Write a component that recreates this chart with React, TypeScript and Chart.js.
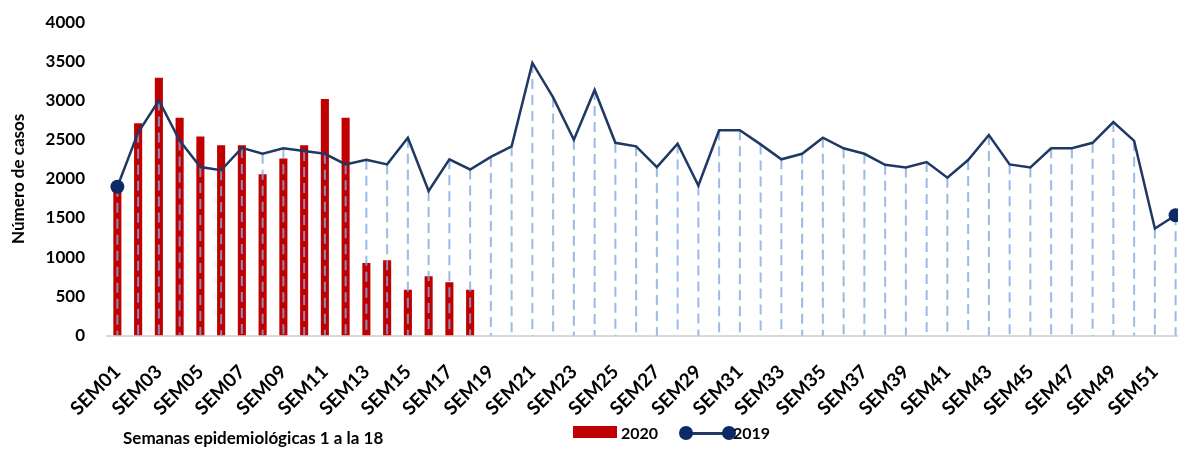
import React, { useEffect, useRef } from 'react';
import { Chart, registerables } from 'chart.js';

Chart.register(...registerables);

const weeks = [
  'SEM01', 'SEM02', 'SEM03', 'SEM04', 'SEM05', 'SEM06', 'SEM07', 'SEM08', 'SEM09', 'SEM10',
  'SEM11', 'SEM12', 'SEM13', 'SEM14', 'SEM15', 'SEM16', 'SEM17', 'SEM18', 'SEM19', 'SEM20',
  'SEM21', 'SEM22', 'SEM23', 'SEM24', 'SEM25', 'SEM26', 'SEM27', 'SEM28', 'SEM29', 'SEM30',
  'SEM31', 'SEM32', 'SEM33', 'SEM34', 'SEM35', 'SEM36', 'SEM37', 'SEM38', 'SEM39', 'SEM40',
  'SEM41', 'SEM42', 'SEM43', 'SEM44', 'SEM45', 'SEM46', 'SEM47', 'SEM48', 'SEM49', 'SEM50',
  'SEM51', 'SEM52',
];

const cases2020 = [
  1880, 2710, 3290, 2780, 2540, 2430, 2430, 2060, 2260, 2430,
  3020, 2780, 925, 960, 585, 755, 680, 585,
];

const cases2019 = [
  1900, 2590, 3000, 2490, 2150, 2110, 2395, 2320, 2390, 2355,
  2320, 2185, 2245, 2185, 2525, 1845, 2250, 2120, 2280, 2415,
  3480, 3040, 2500, 3135, 2460, 2415, 2150, 2450, 1915, 2620,
  2620, 2440, 2250, 2320, 2525, 2390, 2320, 2180, 2145, 2215,
  2015, 2240, 2560, 2185, 2145, 2390, 2390, 2460, 2725, 2485,
  1365, 1535,
];

const yTicks = [0, 500, 1000, 1500, 2000, 2500, 3000, 3500, 4000];

const RED = '#c00000';
const NAVY = '#1f3864';
const MARKER = '#0d2a66';
const DROP = 'rgba(130,170,225,0.8)';
const FONT = 'Lato, "DejaVu Sans", sans-serif';

const dropLines = {
  id: 'dropLines',
  beforeDatasetDraw(chart: any, args: any) {
    if (args.index !== 1) return;
    const meta = chart.getDatasetMeta(1);
    const bottom = chart.scales.y.getPixelForValue(0);
    const ctx = chart.ctx;
    ctx.save();
    ctx.strokeStyle = DROP;
    ctx.lineWidth = 2;
    ctx.setLineDash([10, 6]);
    meta.data.forEach((pt: any) => {
      ctx.beginPath();
      ctx.moveTo(pt.x, pt.y);
      ctx.lineTo(pt.x, bottom);
      ctx.stroke();
    });
    ctx.restore();
  },
};

export default function App() {
  const canvasRef = useRef<HTMLCanvasElement | null>(null);

  useEffect(() => {
    document.body.style.margin = '0';
    document.body.style.overflow = 'hidden';
    Chart.defaults.font.family = FONT;
    const last = cases2019.length - 1;
    const chart = new Chart(canvasRef.current as HTMLCanvasElement, {
      type: 'bar',
      data: {
        labels: weeks,
        datasets: [
          {
            type: 'bar',
            label: '2020',
            data: cases2020,
            backgroundColor: RED,
            barPercentage: 0.39,
            categoryPercentage: 1,
            order: 1,
          },
          {
            type: 'line',
            label: '2019',
            data: cases2019,
            borderColor: NAVY,
            borderWidth: 2.5,
            tension: 0,
            clip: false,
            pointRadius: (c: any) => (c.dataIndex === 0 || c.dataIndex === last ? 7 : 0),
            pointBackgroundColor: MARKER,
            pointBorderColor: MARKER,
            pointBorderWidth: 0,
            order: 0,
          } as any,
        ],
      },
      options: {
        animation: false,
        responsive: true,
        maintainAspectRatio: false,
        layout: { padding: { top: 3, bottom: 32, left: 0, right: 0 } },
        plugins: { legend: { display: false }, tooltip: { enabled: false } },
        scales: {
          x: {
            offset: true,
            afterFit: (s: any) => {
              s.paddingLeft = 0;
              s.paddingRight = 0;
            },
            grid: { display: false, drawTicks: false },
            border: { color: '#d9d9d9', width: 2 },
            ticks: {
              autoSkip: false,
              maxRotation: 45,
              minRotation: 45,
              padding: 25,
              color: '#000',
              font: { size: 19, weight: 'bold' },
              callback: (_v: any, i: number) => (i % 2 === 0 ? weeks[i] : ''),
            },
          },
          y: {
            min: yTicks[0],
            max: yTicks[yTicks.length - 1],
            afterBuildTicks: (s: any) => {
              s.ticks = yTicks.map((v) => ({ value: v }));
            },
            afterFit: (s: any) => {
              s.width = 107;
            },
            grid: { display: false, drawTicks: false },
            border: { display: false },
            ticks: {
              padding: 22,
              color: '#000',
              font: { size: 17, weight: 'bold' },
              callback: (v: any) => String(v),
            },
            title: {
              display: true,
              text: 'Número de casos',
              color: '#000',
              font: { size: 17, weight: 'bold' },
              padding: { top: 8, bottom: 0 },
            },
          },
        },
      },
      plugins: [dropLines],
    } as any);
    return () => chart.destroy();
  }, []);

  const textStyle: React.CSSProperties = {
    position: 'absolute',
    fontFamily: FONT,
    fontWeight: 700,
    color: '#000',
    whiteSpace: 'nowrap',
    lineHeight: 1,
  };

  return (
    <div style={{ position: 'relative', width: 1178, height: 449, overflow: 'hidden', background: '#fff' }}>
      <div style={{ position: 'absolute', left: 0, top: -10, width: 1193, height: 487 }}>
        <canvas ref={canvasRef} />
      </div>
      <div style={{ ...textStyle, left: 123, top: 429, fontSize: 17 }}>Semanas epidemiológicas 1 a la 18</div>
      <div style={{ position: 'absolute', left: 573, top: 426, width: 44, height: 12, background: RED }} />
      <div style={{ ...textStyle, left: 621, top: 425, fontSize: 16 }}>2020</div>
      <div style={{ position: 'absolute', left: 686, top: 432, width: 43, height: 2.5, background: NAVY }} />
      <div style={{ position: 'absolute', left: 679, top: 426, width: 14, height: 14, borderRadius: '50%', background: MARKER }} />
      <div style={{ position: 'absolute', left: 722, top: 426, width: 14, height: 14, borderRadius: '50%', background: MARKER }} />
      <div style={{ ...textStyle, left: 733, top: 425, fontSize: 16 }}>2019</div>
    </div>
  );
}
